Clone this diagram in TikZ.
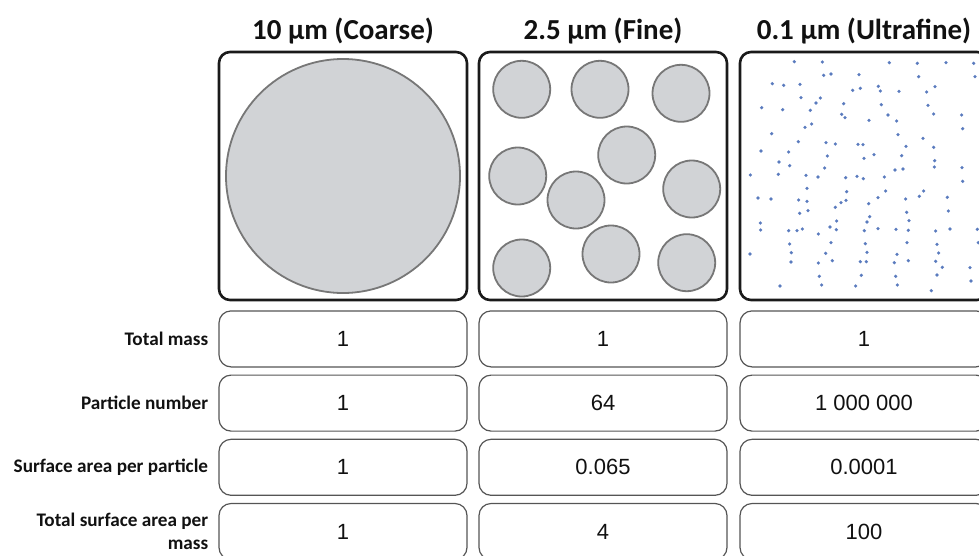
\documentclass[tikz,border=0pt]{standalone}
\usepackage{fontspec}
\setmainfont{Carlito}
\newfontfamily\numfont{Liberation Sans}
\usetikzlibrary{positioning}
\definecolor{panelline}{HTML}{1A1A1A}
\definecolor{boxline}{HTML}{555555}
\definecolor{particlefill}{HTML}{D1D3D6}
\definecolor{particleline}{HTML}{777777}
\definecolor{dotblue}{HTML}{5A7BBE}
\definecolor{textblack}{HTML}{111111}

\begin{document}
\begin{tikzpicture}[
    x=1pt, y=-1pt,
    node distance=10pt,
    panel/.style={
        draw=panelline,
        line width=2.6pt,
        rounded corners=11pt,
        minimum width=248pt,
        minimum height=248pt,
        inner sep=0pt
    },
    header/.style={font=\fontsize{29}{32}\selectfont\bfseries, text=textblack},
    valbox/.style={
        draw=boxline,
        line width=1.2pt,
        rounded corners=12pt,
        minimum width=248pt,
        minimum height=56pt,
        inner sep=0pt,
        font=\numfont\fontsize{22}{25}\selectfont,
        text=textblack
    },
    rowlabel/.style={
        font=\fontsize{19.2}{23}\selectfont\bfseries,
        align=right,
        text=textblack,
        inner sep=0pt
    },
    particle/.style={fill=particlefill, draw=particleline, line width=1.8pt},
    dot/.style={fill=dotblue}
]
\useasboundingbox (0,0) rectangle (979,555);
\clip (0,0) rectangle (979,555);

% panels and headings
\node[panel] (coarse) at (343,176) {};
\node[panel] (fine) at (603,176) {};
\node[panel] (ultra) at (864,176) {};

\node[header, above=3pt of coarse] (hcoarse) {10 µm (Coarse)};
\node[header, above=3pt of fine] (hfine) {2.5 µm (Fine)};
\node[header, above=3pt of ultra] (hultra) {0.1 µm (Ultrafine)};

% particles
\fill[particle] (coarse.center) circle (117);
\foreach \c in {(521.7,89.3),(600,89.3),(681,93.3),(626.7,155),(517.7,176),
                (576,200),(691.7,189),(521.7,268),(611,254),(686.7,262.7)}
    \fill[particle] \c circle (28.5);

\begin{scope}[shift={(730,40)}, x=0.3333pt, y=-0.3333pt]
\foreach \p in {(193,65),(277,66),(478,68),(562,70),(648,68),(731,70),
    (281,106),(303,102),(387,104),(566,110),(735,110),
    (127,131),(161,136),(210,133),(368,151),(391,145),(445,139),(451,153),(507,154),(590,156),(615,140),
    (213,173),(271,174),(258,189),(95,203),(158,209),(241,211),(341,191),(454,194),(594,196),
    (335,223),(345,233),(474,225),(611,222),(695,225),(417,241),(500,243),(245,252),(225,262),(698,266),
    (125,281),(504,284),(579,295),
    (205,305),(288,308),(316,312),(384,313),(399,314),(528,319),(611,322),
    (93,333),(176,336),(292,348),(432,344),(515,347),(402,355),
    (147,366),(179,377),(284,384),(495,390),(519,387),(614,362),(613,381),(696,383),
    (61,405),(145,403),(228,406),(264,411),(347,413),(381,409),(400,416),(463,411),(698,424),
    (231,445),(350,455),(467,453),(581,453),(568,469),
    (84,474),(123,477),(206,480),(231,484),(348,481),(333,488),(316,502),(416,491),(444,473),(527,477),(652,472),
    (209,520),(234,512),(530,517),(655,513),
    (320,543),(419,530),(411,546),(537,542),
    (91,549),(92,570),(176,572),(201,572),(217,567),(300,561),(319,569),(403,572),(444,566),(498,568),
    (535,571),(617,573),(660,567),(742,568),
    (265,582),
    (179,612),(303,608),(406,611),(531,608),(621,613),(745,608),
    (184,638),(287,640),(411,637),(501,643),(626,639),
    (60,642),
    (183,666),(265,669),(307,662),(391,665),(409,665),(493,668),(535,662),(617,664),(637,682),(720,683),
    (268,709),(394,706),(497,709),(621,705),(723,723),
    (150,738),(275,735),(377,738),(502,735),(604,752)}
    \fill[dot] \p circle (1.8pt);
\end{scope}

% value rows
\node[valbox, below=9pt of coarse] (mass1) {1};
\node[valbox, below=9pt of fine] (mass2) {1};
\node[valbox, below=9pt of ultra] (mass3) {1};

\node[valbox, below=7pt of mass1] (number1) {1};
\node[valbox, below=7pt of mass2] (number2) {64};
\node[valbox, below=7pt of mass3] (number3) {1 000 000};

\node[valbox, below=7pt of number1] (surf1) {1};
\node[valbox, below=7pt of number2] (surf2) {0.065};
\node[valbox, below=7pt of number3] (surf3) {0.0001};

\node[valbox, below=7pt of surf1] (total1) {1};
\node[valbox, below=7pt of surf2] (total2) {4};
\node[valbox, below=7pt of surf3] (total3) {100};

% row labels
\node[rowlabel, left=10pt of mass1] (lmass) {Total mass};
\node[rowlabel, left=10pt of number1] (lnumber) {Particle number};
\node[rowlabel, left=10pt of surf1] (lsurf) {Surface area per particle};
\node[rowlabel, left=10pt of total1] (ltotal) {Total surface area per\\mass};

\end{tikzpicture}
\end{document}
